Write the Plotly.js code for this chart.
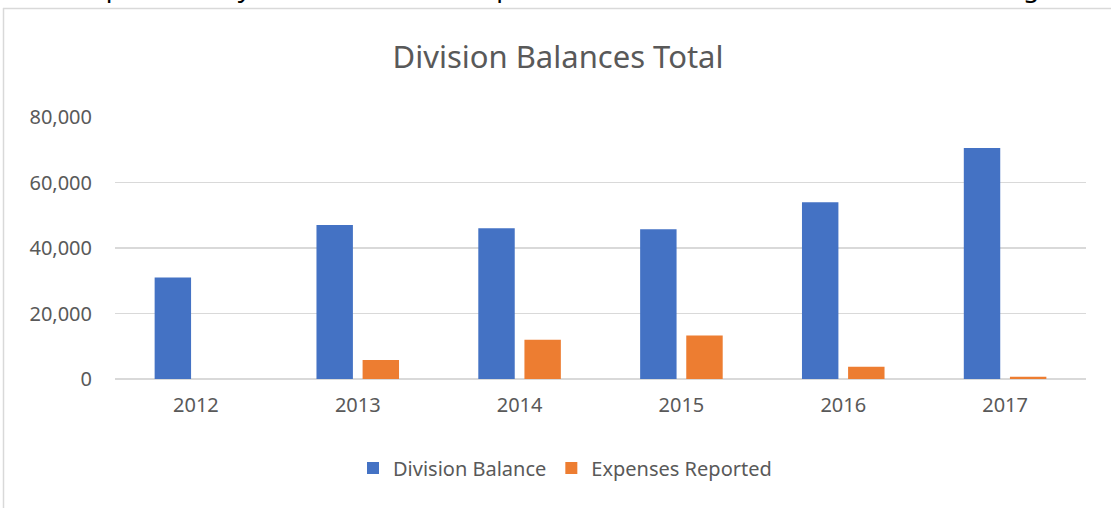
<!DOCTYPE html>
<html>
<head>
<meta charset="utf-8">
<script src="https://cdn.plot.ly/plotly-3.0.1.min.js"></script>
<style>
  html, body { margin: 0; padding: 0; background: #ffffff; }
  #chart { width: 1111px; height: 508px; }
</style>
</head>
<body>
<div id="chart"></div>
<script>
const years = ['2012', '2013', '2014', '2015', '2016', '2017'];
const divisionBalance = [31000, 47000, 46000, 45700, 54000, 70500];
const expensesReported = [0, 5800, 12000, 13300, 3750, 700];
const yTicks = [0, 20000, 40000, 60000, 80000];
const chartTitle = 'Division Balances Total';
const seriesNames = ['Division Balance', 'Expenses Reported'];
const aboveText = 'er, the expenses may have been under reported or entailed in other miscellaneous figure';

const W = 1111, H = 508;
const L = 115, R = 1086, T = 117, B = 379;
const px = x => (x - L) / (R - L);
const py = y => (B - y) / (B - T);

const font = 'Noto Sans, Open Sans, sans-serif';
const grey = '#595959';

const traces = [
  { type: 'bar', x: years, y: divisionBalance, name: seriesNames[0],
    marker: { color: '#4472C4' }, hoverinfo: 'x+y' },
  { type: 'bar', x: years, y: expensesReported, name: seriesNames[1],
    marker: { color: '#ED7D31' }, hoverinfo: 'x+y' }
];

const layout = {
  width: W, height: H,
  margin: { l: L, r: W - R, t: T, b: H - B, pad: 0, autoexpand: false },
  paper_bgcolor: '#ffffff', plot_bgcolor: '#ffffff',
  font: { family: font, color: grey, size: 20 },
  title: { text: chartTitle, font: { family: font, size: 31, color: grey },
           xref: 'container', x: 558 / W, xanchor: 'center',
           yref: 'container', y: 1 - 57 / H, yanchor: 'middle' },
  barmode: 'group', bargap: 0.43, bargroupgap: 0.21,
  xaxis: { type: 'category', showgrid: false, zeroline: false, showline: false, automargin: false,
           ticks: '', ticklabelstandoff: 12, tickfont: { size: 20, color: grey } },
  yaxis: { range: [0, 80000], tickvals: yTicks, tickformat: ',', showgrid: true, automargin: false,
           gridcolor: '#d9d9d9', gridwidth: 1.5, zeroline: true, zerolinecolor: '#d9d9d9',
           zerolinewidth: 1.5, showline: false, ticks: '', ticklabelstandoff: 22,
           tickfont: { size: 20, color: grey } },
  showlegend: true,
  legend: { orientation: 'h', x: 565 / W, xref: 'container', xanchor: 'center',
            y: py(468), yanchor: 'middle', font: { size: 20, color: grey },
            itemwidth: 30, traceorder: 'normal' },
  shapes: [
    { type: 'line', xref: 'paper', yref: 'paper', x0: px(3.5), x1: px(3.5), y0: py(8), y1: py(520),
      line: { color: '#d9d9d9', width: 1.5 } },
    { type: 'line', xref: 'paper', yref: 'paper', x0: px(3), x1: px(1120), y0: py(8.5), y1: py(8.5),
      line: { color: '#d9d9d9', width: 1.5 } }
  ],
  annotations: [
    { text: aboveText, xref: 'paper', yref: 'paper', x: px(-6), y: py(7), xanchor: 'left',
      yanchor: 'bottom', showarrow: false, font: { family: font, size: 26, color: '#000000' } }
  ]
};

Plotly.newPlot('chart', traces, layout, { displayModeBar: false, staticPlot: true });
</script>
</body>
</html>
